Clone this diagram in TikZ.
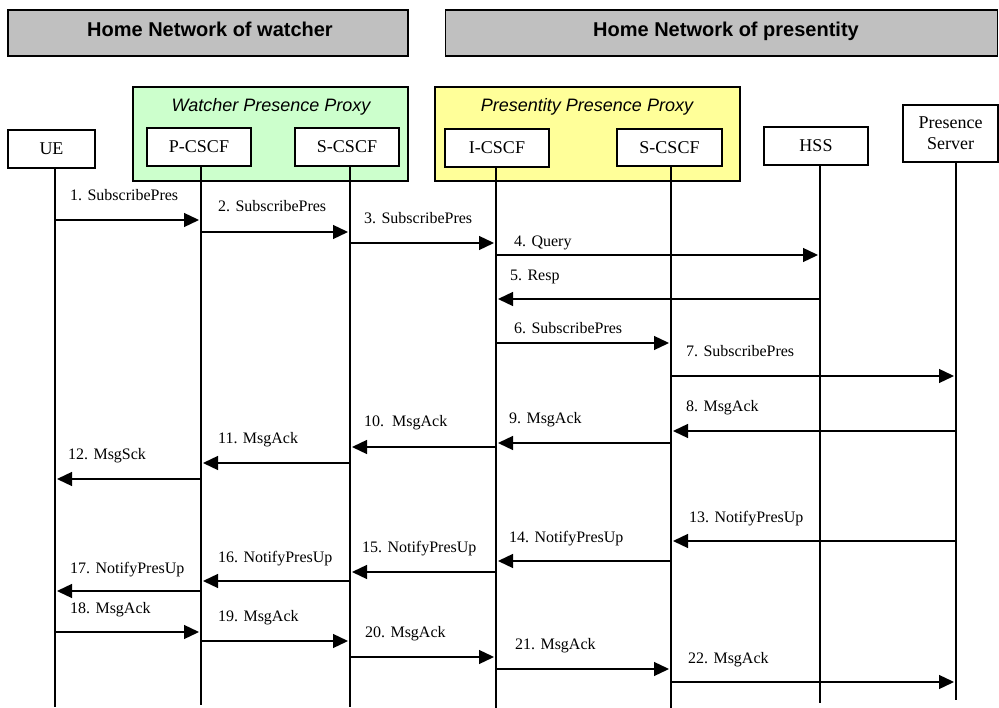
\documentclass[tikz,border=0pt]{standalone}
\usepackage{fontspec}
\setmainfont{Liberation Serif}
\newfontfamily\arialfont{Liberation Sans}
\usetikzlibrary{arrows.meta}
\definecolor{banner_gray}{HTML}{C0C0C0}
\definecolor{proxy_green}{HTML}{CCFFCC}
\definecolor{proxy_yellow}{HTML}{FFFF99}
\tikzstyle{banner} = [draw, fill=banner_gray, line width=1.5pt, inner sep=0pt, minimum height=46pt]
\tikzstyle{banner_text} = [anchor=base, inner sep=0pt, font=\arialfont\bfseries\fontsize{20}{24}\selectfont]
\tikzstyle{proxy_box} = [draw, line width=1.3pt, inner sep=0pt, minimum width=275pt, minimum height=94pt]
\tikzstyle{proxy_text} = [anchor=base, inner sep=0pt, font=\arialfont\itshape\fontsize{18}{21}\selectfont]
\tikzstyle{node_entity} = [draw, fill=white, line width=1.3pt, inner sep=0pt, minimum width=104pt, minimum height=38pt, align=center, font=\fontsize{18}{21}\selectfont]
\tikzstyle{lifeline} = [line width=1.3pt]
\tikzstyle{msg} = [line width=1.3pt, shorten >=2pt, -{Triangle[length=15pt,width=14pt]}]
\tikzstyle{msg_label} = [anchor=base west, inner sep=0pt, font=\fontsize{16}{19}\selectfont]

\begin{document}
\begin{tikzpicture}[x=1pt, y=-1pt]
		\useasboundingbox (0,0) rectangle (999,708);
		\node (watcher_net) at (208,33) [banner, minimum width=400pt] {};
		\node (presentity_net) at (721.5,33) [banner, minimum width=552pt] {};
		\node (watcher_title) at (210,37) [banner_text] {Home Network of watcher};
		\node (presentity_title) at (726,37) [banner_text] {Home Network of presentity};
		
		\node (watcher_proxy) at (270.5,134) [proxy_box, fill=proxy_green] {};
		\node (presentity_proxy) at (587.5,134) [proxy_box, fill=proxy_yellow, minimum width=305pt] {};
		\node (watcher_proxy_title) at (271,112) [proxy_text] {Watcher Presence Proxy};
		\node (presentity_proxy_title) at (587,112) [proxy_text] {Presentity Presence Proxy};
		
		\node (ue) at (51.5,149) [node_entity, minimum width=87pt] {UE};
		\node (pcscf) at (199,147) [node_entity] {P-CSCF};
		\node (scscf_w) at (347,147) [node_entity] {S-CSCF};
		\node (icscf) at (497,148) [node_entity] {I-CSCF};
		\node (scscf_p) at (669.5,147.5) [node_entity, minimum width=105pt, minimum height=37pt] {S-CSCF};
		\node (hss) at (816,146) [node_entity] {HSS};
		\node (ps) at (950.5,133.5) [node_entity, minimum width=95pt, minimum height=57pt] {Presence\\Server};
		
		\coordinate (ue_end) at (55,707);
		\coordinate (pcscf_end) at (201,705);
		\coordinate (scscf_w_end) at (350,707);
		\coordinate (icscf_end) at (496,708);
		\coordinate (scscf_p_end) at (671,708);
		\coordinate (hss_end) at (820,703);
		\coordinate (ps_end) at (956,700);
		
		\draw[lifeline] (ue.south -| ue_end) -- (ue_end);
		\draw[lifeline] (pcscf.south -| pcscf_end) -- (pcscf_end);
		\draw[lifeline] (scscf_w.south -| scscf_w_end) -- (scscf_w_end);
		\draw[lifeline] (icscf.south -| icscf_end) -- (icscf_end);
		\draw[lifeline] (scscf_p.south -| scscf_p_end) -- (scscf_p_end);
		\draw[lifeline] (hss.south -| hss_end) -- (hss_end);
		\draw[lifeline] (ps.south -| ps_end) -- (ps_end);
		
		\draw[msg] (ue_end |- 0,220) -- (pcscf_end |- 0,220);
		\draw[msg] (pcscf_end |- 0,232) -- (scscf_w_end |- 0,232);
		\draw[msg] (scscf_w_end |- 0,243) -- (icscf_end |- 0,243);
		\draw[msg] (icscf_end |- 0,255) -- (hss_end |- 0,255);
		\draw[msg] (hss_end |- 0,299) -- (icscf_end |- 0,299);
		\draw[msg] (icscf_end |- 0,343) -- (scscf_p_end |- 0,343);
		\draw[msg] (scscf_p_end |- 0,376) -- (ps_end |- 0,376);
		\draw[msg] (ps_end |- 0,431) -- (scscf_p_end |- 0,431);
		\draw[msg] (scscf_p_end |- 0,443) -- (icscf_end |- 0,443);
		\draw[msg] (icscf_end |- 0,447) -- (scscf_w_end |- 0,447);
		\draw[msg] (scscf_w_end |- 0,463) -- (pcscf_end |- 0,463);
		\draw[msg] (pcscf_end |- 0,479) -- (ue_end |- 0,479);
		\draw[msg] (ps_end |- 0,541) -- (scscf_p_end |- 0,541);
		\draw[msg] (scscf_p_end |- 0,561) -- (icscf_end |- 0,561);
		\draw[msg] (icscf_end |- 0,572) -- (scscf_w_end |- 0,572);
		\draw[msg] (scscf_w_end |- 0,581) -- (pcscf_end |- 0,581);
		\draw[msg] (pcscf_end |- 0,591) -- (ue_end |- 0,591);
		\draw[msg] (ue_end |- 0,632) -- (pcscf_end |- 0,632);
		\draw[msg] (pcscf_end |- 0,641) -- (scscf_w_end |- 0,641);
		\draw[msg] (scscf_w_end |- 0,657) -- (icscf_end |- 0,657);
		\draw[msg] (icscf_end |- 0,669) -- (scscf_p_end |- 0,669);
		\draw[msg] (scscf_p_end |- 0,682) -- (ps_end |- 0,682);
		
		\node (m1) at (70,201) [msg_label] {1. SubscribePres};
		\node (m2) at (218,212) [msg_label] {2. SubscribePres};
		\node (m3) at (364,224) [msg_label] {3. SubscribePres};
		\node (m4) at (514,247) [msg_label] {4. Query};
		\node (m5) at (510,281) [msg_label] {5. Resp};
		\node (m6) at (514,334) [msg_label] {6. SubscribePres};
		\node (m7) at (686,357) [msg_label] {7. SubscribePres};
		\node (m8) at (686,412) [msg_label] {8. MsgAck};
		\node (m9) at (509,424) [msg_label] {9. MsgAck};
		\node (m10) at (364,427) [msg_label] {10.\ \ MsgAck};
		\node (m11) at (218,444) [msg_label] {11. MsgAck};
		\node (m12) at (68,460) [msg_label] {12. MsgSck};
		\node (m13) at (689,522) [msg_label] {13. NotifyPresUp};
		\node (m14) at (509,542) [msg_label] {14. NotifyPresUp};
		\node (m15) at (362,552) [msg_label] {15. NotifyPresUp};
		\node (m16) at (218,562) [msg_label] {16. NotifyPresUp};
		\node (m17) at (70,573) [msg_label] {17. NotifyPresUp};
		\node (m18) at (70,613) [msg_label] {18. MsgAck};
		\node (m19) at (218,621) [msg_label] {19. MsgAck};
		\node (m20) at (365,637) [msg_label] {20. MsgAck};
		\node (m21) at (515,649) [msg_label] {21. MsgAck};
		\node (m22) at (688,663) [msg_label] {22. MsgAck};
		\end{tikzpicture}
\end{document}
